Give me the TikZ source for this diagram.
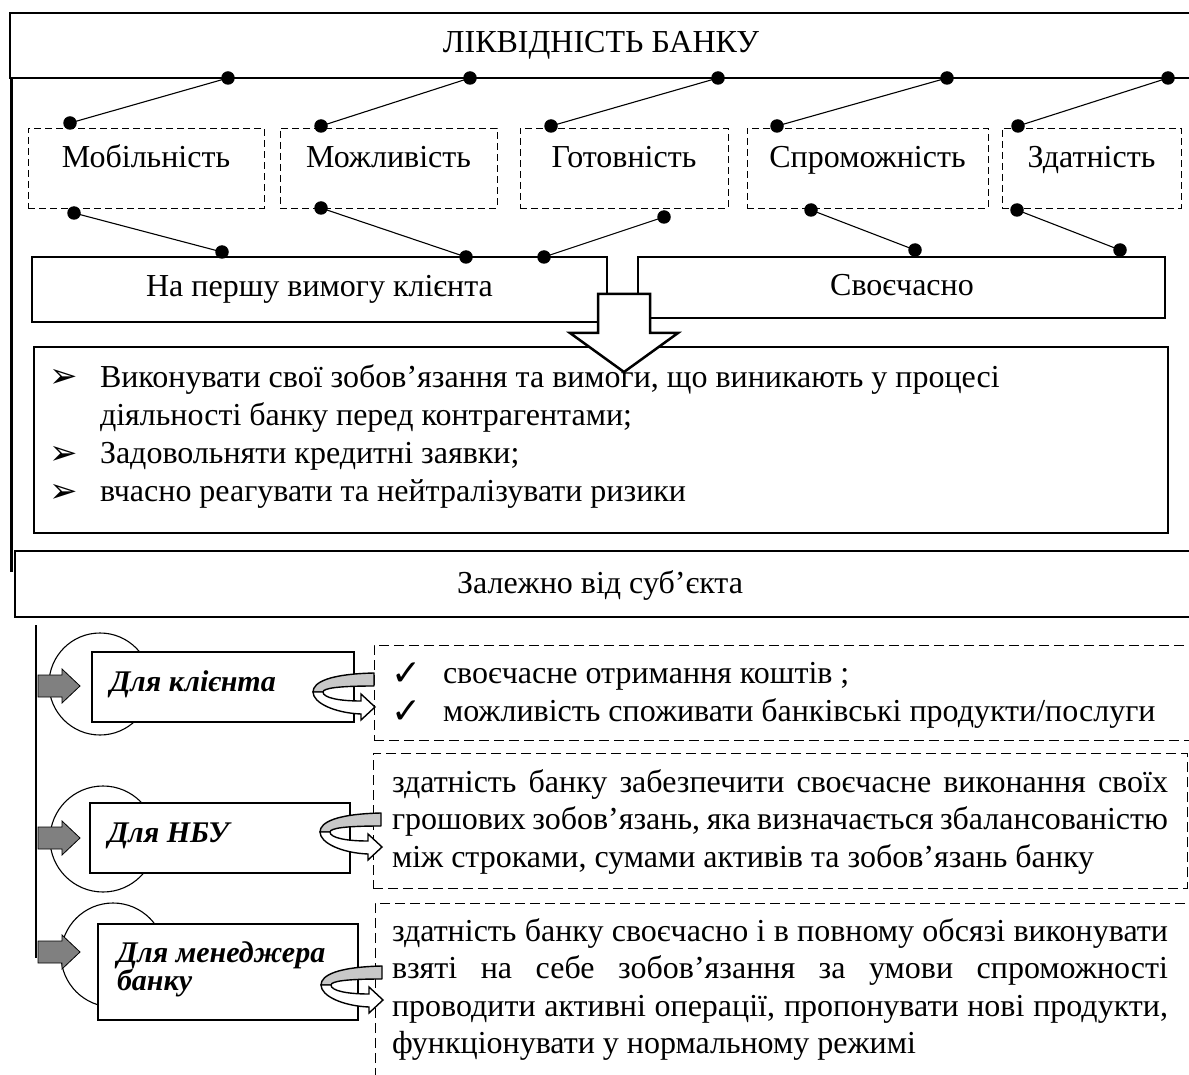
\documentclass[tikz,border=0pt]{standalone}
\usepackage{fontspec}
\setmainfont{Liberation Serif}
\newfontfamily\symfont{DejaVu Sans}
\definecolor{arrgrey}{HTML}{808080}
\definecolor{bandgrey}{HTML}{C8C8C8}
\tikzset{
  txt/.style={font=\fontsize{32}{37.5}\selectfont, inner sep=0pt, outer sep=0pt},
  bitxt/.style={font=\fontsize{30}{30}\selectfont\bfseries\itshape, inner sep=0pt, outer sep=0pt},
  symb/.style={font=\symfont\fontsize{34}{34}\selectfont, inner sep=0pt, outer sep=0pt},
  checkmk/.style={font=\symfont\fontsize{36}{36}\selectfont, inner sep=0pt, outer sep=0pt},
  heavybox/.style={draw, line width=2.8pt, anchor=north west, inner sep=0pt, outer sep=0pt},
  plainbox/.style={draw, line width=1.1pt, fill=white, anchor=north west, inner sep=0pt, outer sep=0pt},
  rowbox/.style={draw, dash pattern=on 7pt off 4pt, line width=0.9pt, anchor=north west, inner sep=0pt, outer sep=0pt, minimum height=80pt},
  lowbox/.style={draw, dash pattern=on 10pt off 5pt, line width=0.9pt, anchor=north west, inner sep=0pt, outer sep=0pt},
  ring/.style={circle, draw, line width=1.1pt, inner sep=0pt},
  dot/.style={circle, fill=black, inner sep=0pt, minimum size=13.5pt},
  conn/.style={line width=1.1pt},
  greyarrow/.pic={\draw[line width=0.8pt, fill=arrgrey] (0,-11) -- (24,-11) -- (24,-17) -- (42,0) -- (24,17) -- (24,11) -- (0,11) -- cycle;},
  uturn/.pic={
    \draw[line width=1.4pt, fill=bandgrey, line join=round]
      (-1,-34) .. controls (-45,-33) and (-62,-25) .. (-62,-15)
      -- (-52,-15) .. controls (-52,-19) and (-35,-21) .. (-1,-21) -- cycle;
    \draw[line width=1.4pt, fill=white, line join=miter]
      (-62,-15) .. controls (-62,-4) and (-40,6) .. (-14,7)
      -- (-14,13) -- (0,0) -- (-14,-13) -- (-14,-6)
      .. controls (-35,-6) and (-52,-9) .. (-52,-15) -- cycle;
  }
}
\begin{document}
\begin{tikzpicture}[x=1pt,y=-1pt]
\useasboundingbox (0,0) rectangle (1189,1075);
\clip (0,0) rectangle (1189,1075);

% ---------- header and frame ----------
\node[heavybox, minimum width=1182pt, minimum height=65pt] (hdr) at (10,13) {};
\node[txt, anchor=base] (thdr) at (601,53) {ЛІКВІДНІСТЬ БАНКУ};
\coordinate (frtop) at (11.5,78);
\coordinate (frbot) at (11.5,572);
\draw[line width=2.6pt] (frtop) -- (frbot);

% ---------- row of dashed boxes ----------
\node[rowbox, minimum width=236pt] (mob) at (28,128) {};
\node[rowbox, minimum width=217pt] (mozh) at (280,128) {};
\node[rowbox, minimum width=208pt] (got) at (520,128) {};
\node[rowbox, minimum width=241pt] (sprom) at (747,128) {};
\node[rowbox, minimum width=179pt] (zdat) at (1002,128) {};
\node[txt, anchor=base] (tmob) at (146,168) {Мобільність};
\node[txt, anchor=base] (tmozh) at (388.5,168) {Можливість};
\node[txt, anchor=base] (tgot) at (624,168) {Готовність};
\node[txt, anchor=base] (tsprom) at (867.5,168) {Спроможність};
\node[txt, anchor=base] (tzdat) at (1091.5,168) {Здатність};

% ---------- two lower boxes ----------
\node[plainbox, minimum width=575pt, minimum height=65pt] (pv) at (32,257) {};
\node[txt, anchor=base] (tpv) at (319.5,297) {На першу вимогу клієнта};
\node[plainbox, minimum width=527pt, minimum height=61pt] (sv) at (638,257) {};
\node[txt, anchor=base] (tsv) at (902,296) {Своєчасно};

% ---------- dotted connectors ----------
\node[dot] (h1) at (228,78) {};
\node[dot] (h2) at (470,78) {};
\node[dot] (h3) at (718,78) {};
\node[dot] (h4) at (947,78) {};
\node[dot] (h5) at (1168,78) {};
\node[dot] (m1) at (70,123) {};
\node[dot] (m2) at (321,126) {};
\node[dot] (m3) at (551,126) {};
\node[dot] (m4) at (777,126) {};
\node[dot] (m5) at (1018,126) {};
\node[dot] (b1) at (74,213) {};
\node[dot] (b2) at (321,208) {};
\node[dot] (b3) at (664,217) {};
\node[dot] (b4) at (811,210) {};
\node[dot] (b5) at (1017,210) {};
\node[dot] (n1) at (222,252) {};
\node[dot] (n2) at (466,257) {};
\node[dot] (n3) at (544,257) {};
\node[dot] (n4) at (915,250) {};
\node[dot] (n5) at (1120,250) {};
\draw[conn] (h1.center) -- (m1.center);
\draw[conn] (h2.center) -- (m2.center);
\draw[conn] (h3.center) -- (m3.center);
\draw[conn] (h4.center) -- (m4.center);
\draw[conn] (h5.center) -- (m5.center);
\draw[conn] (b1.center) -- (n1.center);
\draw[conn] (b2.center) -- (n2.center);
\draw[conn] (b3.center) -- (n3.center);
\draw[conn] (b4.center) -- (n4.center);
\draw[conn] (b5.center) -- (n5.center);

% ---------- bullet box ----------
\node[plainbox, minimum width=1134pt, minimum height=186pt] (bul) at (34,347) {};
\draw[line width=2.5pt, fill=white, line join=miter]
  (598,294) -- (650,294) -- (650,333) -- (678,333) -- (624,372) -- (570,333) -- (598,333) -- cycle;
\node[symb, anchor=base] (bu1) at (64,388) {➢};
\node[txt, anchor=base west] (l1) at (100,387) {Виконувати свої зобов’язання та вимоги, що виникають у процесі};
\node[txt, anchor=base west] (l2) at (100,425) {діяльності банку перед контрагентами;};
\node[symb, anchor=base] (bu3) at (64,464) {➢};
\node[txt, anchor=base west] (l3) at (100,463) {Задовольняти кредитні заявки;};
\node[symb, anchor=base] (bu4) at (64,502) {➢};
\node[txt, anchor=base west] (l4) at (100,501) {вчасно реагувати та нейтралізувати ризики};

% ---------- subject bar ----------
\node[heavybox, minimum width=1185pt, minimum height=66pt] (zal) at (15,551) {};
\node[txt, anchor=base] (tzal) at (600,593) {Залежно від суб’єкта};

% ---------- lower section ----------
\coordinate (vtop) at (36,625);
\coordinate (vbot) at (36,958);
\draw[line width=1.1pt] (vtop) -- (vbot);

\node[ring, minimum size=102pt] (c1) at (100,684) {};
\node[ring, minimum size=106pt] (c2) at (103,839) {};
\node[ring, minimum size=104pt] (c3) at (113,955) {};

\node[plainbox, minimum width=262pt, minimum height=70pt] (k1) at (92,652) {};
\node[plainbox, minimum width=260pt, minimum height=70pt] (k2) at (90,803) {};
\node[plainbox, minimum width=260pt, minimum height=96pt] (k3) at (98,924) {};
\node[bitxt, anchor=base west] (tk1) at (110,691) {Для клієнта};
\node[bitxt, anchor=base west] (tk2) at (108,842) {Для НБУ};
\node[bitxt, anchor=base west] (tk3a) at (117,962) {Для менеджера};
\node[bitxt, anchor=base west] (tk3b) at (117,990) {банку};

\pic at (38,686) {greyarrow};
\pic at (38,838) {greyarrow};
\pic at (38,952) {greyarrow};

\node[lowbox, minimum width=830pt, minimum height=95pt] (d1) at (374,645) {};
\node[lowbox, minimum width=814pt, minimum height=135pt] (d2) at (373,753) {};
\node[lowbox, minimum width=830pt, minimum height=200pt] (d3) at (375,903) {};

\pic at (375,707) {uturn};
\pic at (382,847) {uturn};
\pic at (383,1000) {uturn};

\node[checkmk, anchor=base] (ck1) at (407,685) {✓};
\node[txt, anchor=base west] (r1) at (443,683) {своєчасне отримання коштів ;};
\node[checkmk, anchor=base] (ck2) at (407,723) {✓};
\node[txt, anchor=base west] (r2) at (443,721) {можливість споживати банківські продукти/послуги};

\node[txt, anchor=base west] (s1) at (392,792) {\makebox[776pt][s]{здатність банку забезпечити своєчасне виконання своїх}};
\node[txt, anchor=base west] (s2) at (392,829.5) {\makebox[776pt][s]{грошових зобов’язань, яка визначається збалансованістю}};
\node[txt, anchor=base west] (s3) at (392,867) {між строками, сумами активів та зобов’язань банку};

\node[txt, anchor=base west] (m1t) at (392,941) {\makebox[776pt][s]{здатність банку своєчасно і в повному обсязі виконувати}};
\node[txt, anchor=base west] (m2t) at (392,978.5) {\makebox[776pt][s]{взяті на себе зобов’язання за умови спроможності}};
\node[txt, anchor=base west] (m3t) at (392,1016) {\makebox[776pt][s]{проводити активні операції, пропонувати нові продукти,}};
\node[txt, anchor=base west] (m4t) at (392,1053.5) {функціонувати у нормальному режимі};
\end{tikzpicture}
\end{document}
